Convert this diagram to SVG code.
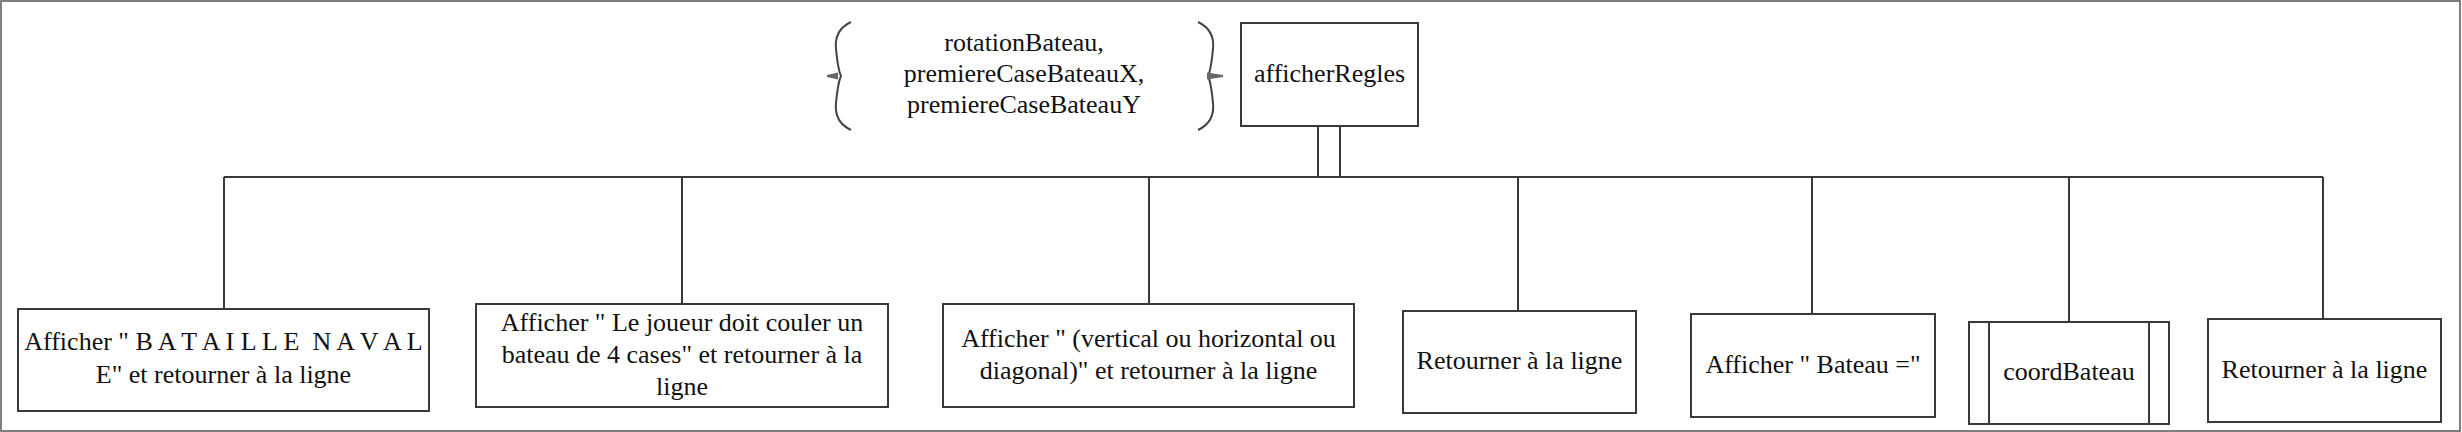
<svg xmlns="http://www.w3.org/2000/svg" width="2462" height="432" viewBox="0 0 2462 432">
  <style>
    .box { fill: #ffffff; stroke: #3a3a3a; stroke-width: 2; }
    .ln { fill: none; stroke: #3a3a3a; stroke-width: 2; }
    .t { font-family: "Liberation Serif", "Times New Roman", serif; font-size: 26px; fill: #111; text-anchor: middle; }
    .brace { fill: none; stroke: #444; stroke-width: 2; }
    .pin { fill: #666; }
  </style>
  <rect x="1" y="1" width="2459" height="430" fill="#ffffff" stroke="#7f7f7f" stroke-width="2"/>

  <g id="connectors">
    <line class="ln" x1="1318" y1="126" x2="1318" y2="177"/>
    <line class="ln" x1="1340" y1="126" x2="1340" y2="177"/>
    <line class="ln" x1="1317" y1="177" x2="1341" y2="177" stroke-width="4"/>
    <line class="ln" x1="224" y1="177" x2="2323" y2="177"/>
    <line class="ln" x1="224" y1="177" x2="224" y2="309"/>
    <line class="ln" x1="682" y1="177" x2="682" y2="304"/>
    <line class="ln" x1="1149" y1="177" x2="1149" y2="304"/>
    <line class="ln" x1="1518" y1="177" x2="1518" y2="311"/>
    <line class="ln" x1="1812" y1="177" x2="1812" y2="314"/>
    <line class="ln" x1="2069" y1="177" x2="2069" y2="322"/>
    <line class="ln" x1="2323" y1="177" x2="2323" y2="319"/>
  </g>

  <g id="params">
    <path class="brace" d="M851,22 Q834,30 836,49 Q838,70 841,76 Q838,82 836,103 Q834,122 851,130"/>
    <path class="brace" d="M1198,22 Q1215,30 1213,49 Q1211,70 1208,76 Q1211,82 1213,103 Q1215,122 1198,130"/>
    <polygon class="pin" points="827,75 838,72.5 838,79.5 827,77"/>
    <polygon class="pin" points="1207,72.5 1223,75 1223,77 1207,79.5"/>
    <text class="t" x="1024" y="51">rotationBateau,</text>
    <text class="t" x="1024" y="82">premiereCaseBateauX,</text>
    <text class="t" x="1024" y="113">premiereCaseBateauY</text>
  </g>

  <g id="afficherRegles">
    <rect class="box" x="1241" y="23" width="177" height="103"/>
    <text class="t" x="1329.5" y="82">afficherRegles</text>
  </g>

  <g id="n1">
    <rect class="box" x="18" y="309" width="411" height="102"/>
    <text class="t" x="223.5" y="350" xml:space="preserve">Afficher " B A T A I L L E  N A V A L</text>
    <text class="t" x="223.5" y="383">E" et retourner à la ligne</text>
  </g>

  <g id="n2">
    <rect class="box" x="476" y="304" width="412" height="103"/>
    <text class="t" x="682" y="331">Afficher " Le joueur doit couler un</text>
    <text class="t" x="682" y="363">bateau de 4 cases" et retourner à la</text>
    <text class="t" x="682" y="395">ligne</text>
  </g>

  <g id="n3">
    <rect class="box" x="943" y="304" width="411" height="103"/>
    <text class="t" x="1148.5" y="347">Afficher " (vertical ou horizontal ou</text>
    <text class="t" x="1148.5" y="379">diagonal)" et retourner à la ligne</text>
  </g>

  <g id="n4">
    <rect class="box" x="1403" y="311" width="233" height="102"/>
    <text class="t" x="1519.5" y="369">Retourner à la ligne</text>
  </g>

  <g id="n5">
    <rect class="box" x="1691" y="314" width="244" height="103"/>
    <text class="t" x="1813" y="373">Afficher " Bateau ="</text>
  </g>

  <g id="n6">
    <rect class="box" x="1969" y="322" width="200" height="102"/>
    <line class="ln" x1="1989" y1="322" x2="1989" y2="424"/>
    <line class="ln" x1="2149" y1="322" x2="2149" y2="424"/>
    <text class="t" x="2069" y="380">coordBateau</text>
  </g>

  <g id="n7">
    <rect class="box" x="2208" y="319" width="233" height="103"/>
    <text class="t" x="2324.5" y="378">Retourner à la ligne</text>
  </g>
</svg>
